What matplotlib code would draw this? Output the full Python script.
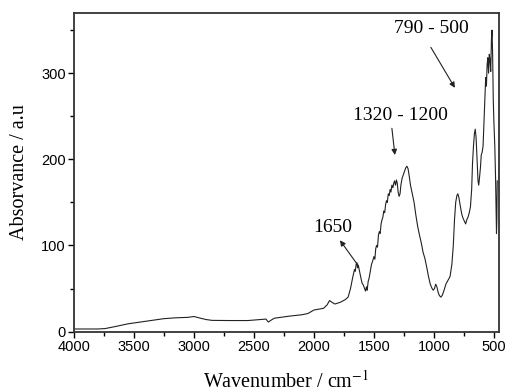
import matplotlib
matplotlib.use("Agg")
import matplotlib.pyplot as plt
from matplotlib.ticker import MultipleLocator

# FTIR spectrum
wavenumber = [
    4000, 3800, 3740, 3650, 3550, 3450, 3350, 3250, 3150, 3050, 3000, 2960,
    2900, 2850, 2700, 2550, 2450, 2400, 2380, 2360, 2330, 2280, 2200, 2100,
    2050, 2000, 1960, 1920, 1890, 1870, 1850, 1825, 1780, 1740, 1715, 1695,
    1675, 1662, 1655, 1648, 1642, 1636, 1630, 1620, 1608, 1598, 1588, 1578,
    1570, 1562, 1556, 1548, 1540, 1530, 1520, 1510, 1500, 1492, 1485, 1478,
    1470, 1462, 1455, 1448, 1440, 1432, 1425, 1418, 1410, 1402, 1395, 1388,
    1380, 1372, 1365, 1358, 1350, 1342, 1335, 1328, 1320, 1312, 1305, 1298,
    1290, 1282, 1275, 1265, 1255, 1245, 1235, 1225, 1215, 1205, 1195, 1180,
    1165, 1150, 1135, 1120, 1105, 1090, 1075, 1060, 1045, 1030, 1015, 1005,
    995, 985, 975, 965, 955, 942, 930, 915, 900, 880, 865, 850, 838, 828,
    818, 808, 800, 792, 785, 775, 765, 755, 745, 735, 725, 715, 705, 695,
    685, 678, 670, 662, 655, 648, 640, 632, 626, 620, 612, 605, 598, 590,
    582, 575, 568, 562, 556, 550, 544, 538, 532, 526, 520, 515, 510, 505,
    500, 492, 486, 481, 478, 475, 472,
]
absorbance = [
    3, 3, 3.5, 6, 9, 11, 13, 15, 16, 16.5, 17.5, 16,
    14, 13, 12.8, 12.8, 14, 14.5, 11, 13, 15.5, 16.5, 18, 19.5,
    21, 25, 26, 27, 31, 36, 34, 32, 34, 37, 40, 50,
    64, 72, 70, 78, 80, 74, 77, 70, 62, 56, 54, 50,
    47, 52, 48, 58, 62, 70, 78, 82, 87, 84, 96, 100,
    98, 112, 116, 114, 125, 130, 133, 140, 138, 148, 152, 150,
    160, 158, 165, 162, 170, 167, 172, 175, 170, 176, 172, 162,
    157, 160, 170, 178, 182, 186, 190, 192, 189, 180, 170, 160,
    150, 135, 122, 112, 103, 92, 85, 75, 64, 55, 50, 48,
    50, 55, 52, 46, 42, 40, 42, 48, 55, 60, 64, 78, 100, 130,
    150, 158, 160, 156, 150, 142, 135, 131, 128, 125, 130, 133, 138, 145,
    165, 195, 215, 230, 235, 225, 200, 175, 170, 178, 190, 205, 208, 215,
    245, 270, 295, 285, 310, 318, 300, 322, 315, 302, 340, 350, 320, 270,
    245, 215, 180, 140, 114, 130, 175,
]

# band labels: text, text position, arrow tail, arrow head
band_labels = ["790 - 500", "1320 - 1200", "1650"]
label_pos = [(1025, 352), (1275, 251), (1842, 121)]
arrow_tail = [(1025, 330), (1350, 236), (1633, 77)]
arrow_head = [(825, 283), (1325, 205), (1783, 106)]

sans = ["Liberation Sans", "DejaVu Sans"]
serif = ["Liberation Serif", "DejaVu Serif"]
plt.rcParams["mathtext.fontset"] = "stix"

fig = plt.figure(figsize=(5.07, 3.91), dpi=100)
ax = fig.add_axes([0.146, 0.152, 0.838, 0.815])

ax.plot(wavenumber, absorbance, color="#222222", lw=0.8)

ax.set_xlim(4000, 458)
ax.set_ylim(0, 370)
ax.xaxis.set_major_locator(MultipleLocator(500))
ax.xaxis.set_minor_locator(MultipleLocator(250))
ax.yaxis.set_major_locator(MultipleLocator(100))
ax.yaxis.set_minor_locator(MultipleLocator(50))
ax.tick_params(which="both", direction="out", top=False, right=False, width=1)
ax.tick_params(which="major", length=4, labelsize=10.5, pad=2)
ax.tick_params(which="minor", length=3)
for lab in ax.get_xticklabels() + ax.get_yticklabels():
    lab.set_family(sans)
for sp in ax.spines.values():
    sp.set_linewidth(1.3)
    sp.set_color("#333333")

ax.set_xlabel("Wavenumber / cm$^{-1}$", family=serif, fontsize=14.5, labelpad=12)
ax.set_ylabel("Absorvance / a.u", family=serif, fontsize=14.5, labelpad=9)

for text, pos, tail, head in zip(band_labels, label_pos, arrow_tail, arrow_head):
    ax.text(pos[0], pos[1], text, family=serif, fontsize=14, ha="center", va="center")
    ax.annotate("", xy=head, xytext=tail,
                arrowprops=dict(arrowstyle="-|>", color="#222222", lw=0.8,
                                mutation_scale=8, shrinkA=0, shrinkB=0))

fig.savefig("out.png", dpi=100)
